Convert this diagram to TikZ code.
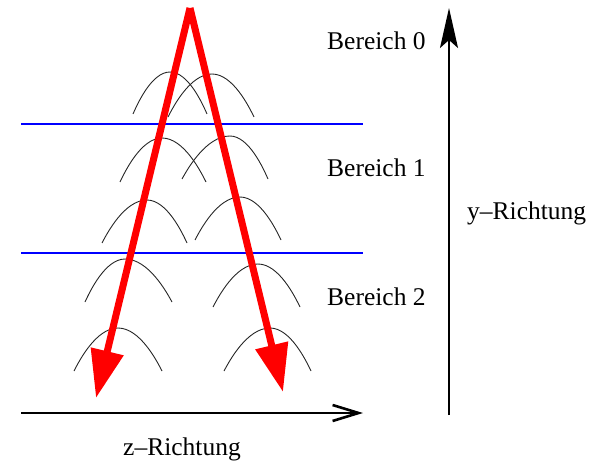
\documentclass[tikz,border=0pt]{standalone}
\usepackage{fontspec}
\setmainfont{Liberation Serif}
\usetikzlibrary{arrows.meta}
\tikzset{
  lbl/.style={anchor=base west, inner sep=0pt, font=\fontsize{25.5}{30}\selectfont},
  sep/.style={draw=blue, line width=2pt},
  wave/.style={draw=black!85, line width=0.9pt},
  ray/.style={draw=red, line width=7pt, -{Triangle[length=48pt,width=32pt]}},
  axisz/.style={draw=black, line width=2pt, -{Straight Barb[length=26pt,width=16pt,line width=2.6pt]}},
  axisy/.style={draw=black, line width=2pt, -{Stealth[length=40pt,width=18pt,inset=8pt]}}
}
\begin{document}
\begin{tikzpicture}[x=1pt,y=-1pt]
\useasboundingbox (0,0) rectangle (591,462);
% separators
\coordinate (s1l) at (21,124); \coordinate (s1r) at (363,124);
\coordinate (s2l) at (21,253); \coordinate (s2r) at (363,253);
\draw[sep] (s1l) -- (s1r);
\draw[sep] (s2l) -- (s2r);
% waves
\draw[wave] (133,114) parabola bend (170,72) (207,114);
\draw[wave] (168,117) parabola bend (212,74) (254,117);
\draw[wave] (120,182) parabola bend (162,138) (206,182);
\draw[wave] (182,179) parabola bend (230,136) (268,179);
\draw[wave] (102,243) parabola bend (147,200) (187,243);
\draw[wave] (195,240) parabola bend (240,197) (281,240);
\draw[wave] (85,302) parabola bend (125,259) (172,302);
\draw[wave] (213,307) parabola bend (258,264) (300,307);
\draw[wave] (74,371) parabola bend (118,328) (162,371);
\draw[wave] (224,371) parabola bend (270,328) (311,371);
% axes
\coordinate (zs) at (21,413); \coordinate (ze) at (363,413);
\draw[axisz] (zs) -- (ze);
\coordinate (ys) at (449,415); \coordinate (ye) at (449,8);
\draw[axisy] (ys) -- (ye);
% rays
\coordinate (apex) at (190,8);
\coordinate (tipl) at (96,398);
\coordinate (tipr) at (283,392);
\draw[ray] (apex) -- (tipl);
\draw[ray] (apex) -- (tipr);
% labels
\node[lbl] (b0) at (327,50) {Bereich 0};
\node[lbl] (b1) at (327,177) {Bereich 1};
\node[lbl] (b2) at (327,305) {Bereich 2};
\node[lbl] (yr) at (467,220) {y–Richtung};
\node[lbl] (zr) at (123,455) {z–Richtung};
\end{tikzpicture}
\end{document}
